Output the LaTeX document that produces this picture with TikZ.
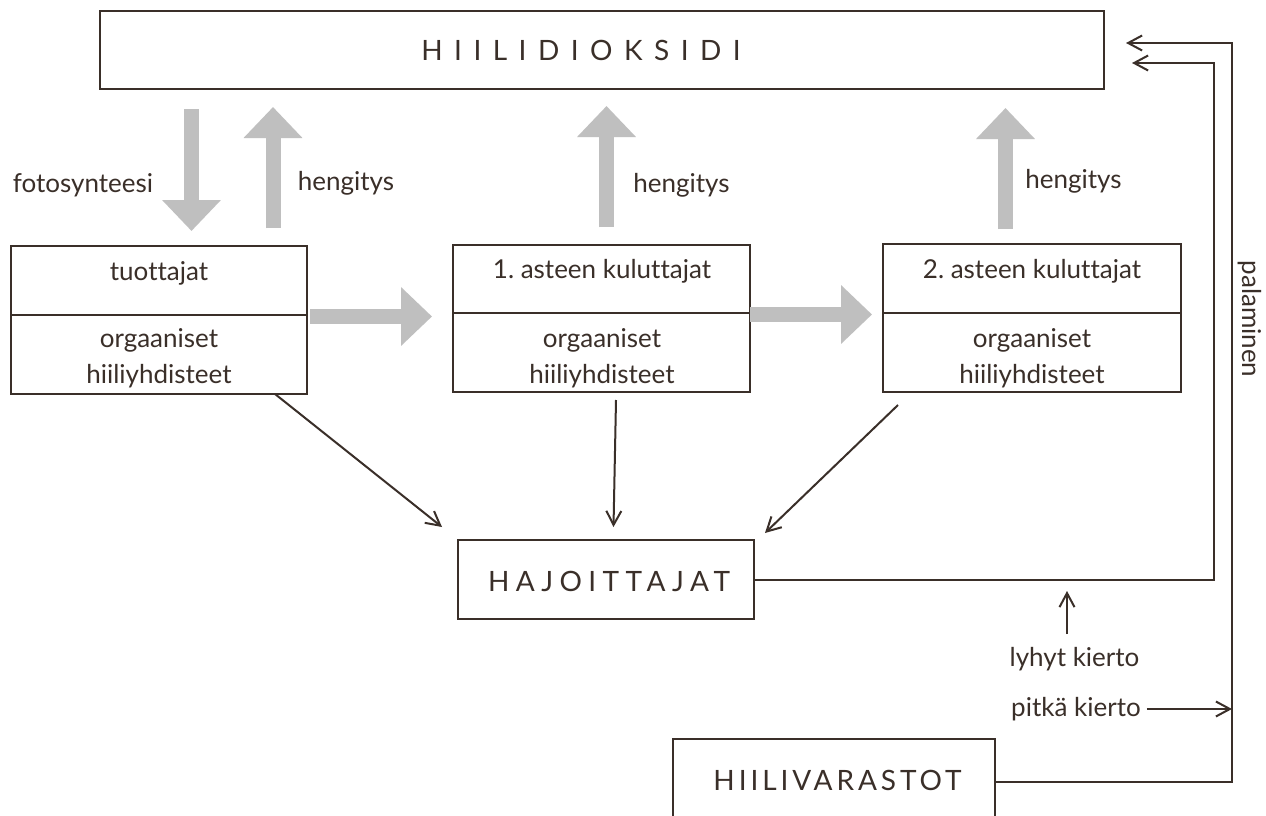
\documentclass[tikz,border=0pt]{standalone}
\usepackage{fontspec}
\setmainfont{Lato}[Ligatures=NoCommon]
\newfontfamily\capsA[LetterSpace=41]{Lato}
\newfontfamily\capsB[LetterSpace=23]{Lato}
\newfontfamily\capsC[LetterSpace=14]{Lato}
\usetikzlibrary{arrows.meta}
\definecolor{ink}{HTML}{3A2F29}
\definecolor{blockgrey}{HTML}{BFBFBF}
\frenchspacing
\begin{document}
\begin{tikzpicture}[x=1pt,y=-1pt,
  box/.style={draw=ink,line width=2.5pt,inner sep=0pt,outer sep=0pt},
  lbl/.style={text=ink,inner sep=0pt,anchor=base,font=\fontsize{26pt}{30pt}\selectfont},
  capslbl/.style={text=ink,inner sep=0pt,anchor=base},
  divider/.style={draw=ink,line width=2.5pt},
  bigarrow/.style={draw=blockgrey,line width=15pt,-{Triangle[width=57pt,length=31pt]}},
  thinarrow/.style={draw=ink,line width=2pt,-{Straight Barb[length=14pt,width=15pt,line width=2pt]}},
  thinline/.style={draw=ink,line width=2pt}]
\clip (0,0) rectangle (1266,816);
\fill[white] (0,0) rectangle (1266,816);

% boxes
\node[box,minimum width=1004pt,minimum height=78pt] (co2) at (602,50) {};
\node[box,minimum width=296pt,minimum height=148pt] (tu) at (159,320) {};
\node[box,minimum width=297pt,minimum height=147pt] (k1) at (601.5,318.5) {};
\node[box,minimum width=298pt,minimum height=148pt] (k2) at (1032,318) {};
\node[box,minimum width=296pt,minimum height=79pt] (haj) at (606,579.5) {};
\node[box,minimum width=322pt,minimum height=86pt] (hv) at (834,782) {};

% dividers
\coordinate (d0) at (0,315);
\coordinate (d1) at (0,313);
\draw[divider] (tu.west |- d0) -- (tu.east |- d0);
\draw[divider] (k1.west |- d1) -- (k1.east |- d1);
\draw[divider] (k2.west |- d1) -- (k2.east |- d1);

% box texts
\node[capslbl,font=\capsA\fontsize{28pt}{32pt}\selectfont] (co2t) at (581,60) {HIILIDIOKSIDI};
\node[lbl] (tut) at (159,280) {tuottajat};
\node[lbl] (tuo1) at (159,347) {orgaaniset};
\node[lbl] (tuo2) at (159,383) {hiiliyhdisteet};
\node[lbl] (k1t) at (602,278) {1. asteen kuluttajat};
\node[lbl] (k1o1) at (602,347) {orgaaniset};
\node[lbl] (k1o2) at (602,383) {hiiliyhdisteet};
\node[lbl] (k2t) at (1032,278) {2. asteen kuluttajat};
\node[lbl] (k2o1) at (1032,347) {orgaaniset};
\node[lbl] (k2o2) at (1032,383) {hiiliyhdisteet};
\node[capslbl,font=\capsB\fontsize{28pt}{32pt}\selectfont] (hajt) at (609,591) {HAJOITTAJAT};
\node[capslbl,font=\capsC\fontsize{28pt}{32pt}\selectfont] (hvt) at (837.5,790) {HIILIVARASTOT};

% free labels
\node[lbl] (foto) at (83,192) {fotosynteesi};
\node[lbl] (hen1) at (346,190) {hengitys};
\node[lbl] (hen2) at (681.5,192) {hengitys};
\node[lbl] (hen3) at (1073.5,188) {hengitys};
\node[lbl] (lyhyt) at (1074.5,666) {lyhyt kierto};
\node[lbl] (pitka) at (1076,716) {pitkä kierto};
\node[lbl,rotate=-90] (pal) at (1242,319) {palaminen};

% grey block arrows
\coordinate (g1s) at (191.5,109);  \coordinate (g1e) at (191.5,231);
\coordinate (g2s) at (273,228);    \coordinate (g2e) at (273,107);
\coordinate (g3s) at (606.5,227);  \coordinate (g3e) at (606.5,106);
\coordinate (g4s) at (1005.5,229); \coordinate (g4e) at (1005.5,108);
\coordinate (g5s) at (310,316.5);  \coordinate (g5e) at (432,316.5);
\coordinate (g6s) at (750,314.5);  \coordinate (g6e) at (872,314.5);
\draw[bigarrow] (g1s) -- (g1e);
\draw[bigarrow] (g2s) -- (g2e);
\draw[bigarrow] (g3s) -- (g3e);
\draw[bigarrow] (g4s) -- (g4e);
\draw[bigarrow] (g5s) -- (g5e);
\draw[bigarrow] (g6s) -- (g6e);

% thin arrows to decomposers
\coordinate (a1s) at (275,394);  \coordinate (a1e) at (442,527);
\coordinate (a2s) at (616,400);  \coordinate (a2e) at (613.5,527);
\coordinate (a3s) at (898,405);  \coordinate (a3e) at (765,533);
\draw[thinarrow] (a1s) -- (a1e);
\draw[thinarrow] (a2s) -- (a2e);
\draw[thinarrow] (a3s) -- (a3e);

% return paths
\coordinate (r1) at (1214,63);
\coordinate (r2) at (1232,43);
\coordinate (t1) at (1132,63);
\coordinate (t2) at (1126,43);
\draw[thinarrow] (haj.east) -| (r1) -- (t1);
\draw[thinarrow] (hv.east) -| (r2) -- (t2);

% short / long cycle pointers
\coordinate (lk) at (1067,591);
\coordinate (lks) at (1067,634);
\draw[thinarrow] (lks) -- (lk);
\draw[thinarrow] ([xshift=6pt]pitka.east |- 0,709) -- (r2 |- 0,709);
\end{tikzpicture}
\end{document}
